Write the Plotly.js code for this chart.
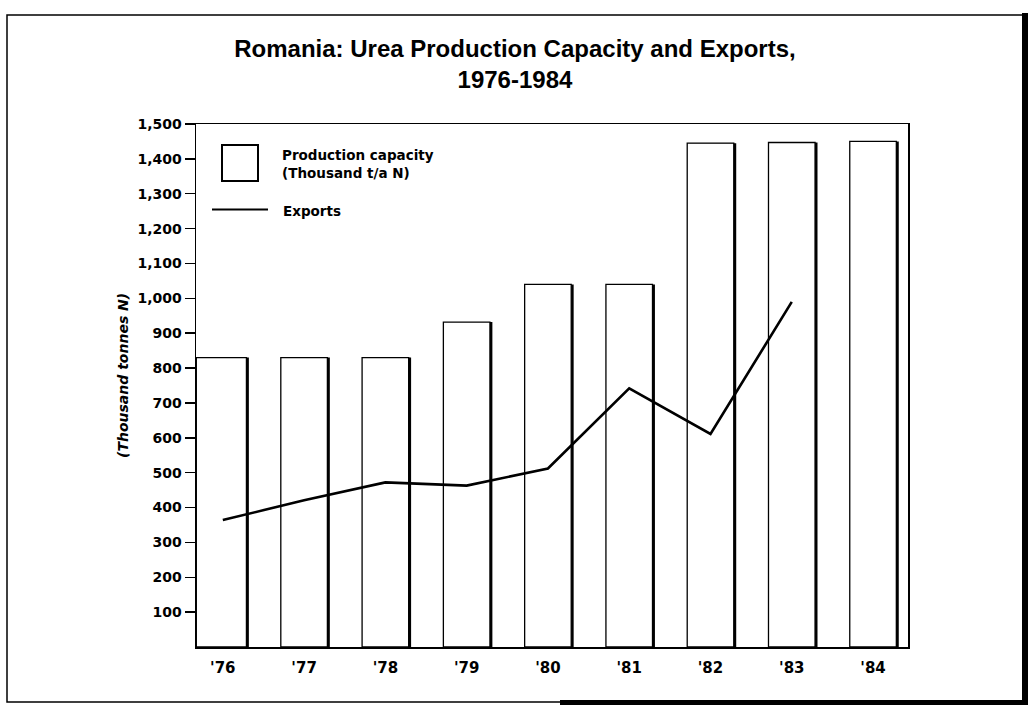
<!DOCTYPE html>
<html>
<head>
<meta charset="utf-8">
<script src="https://cdn.plot.ly/plotly-3.0.1.min.js"></script>
<style>
  html, body { margin: 0; padding: 0; background: #fff; }
  #chart { width: 1033px; height: 708px; }
</style>
</head>
<body>
<div id="chart"></div>
<script>
// ---- data ----
const years = ["'76", "'77", "'78", "'79", "'80", "'81", "'82", "'83", "'84"];
const capacity = [830, 830, 830, 932, 1040, 1040, 1445, 1447, 1450];
const exportYears = ["'76", "'77", "'78", "'79", "'80", "'81", "'82", "'83"];
const exportsVals = [364, 421, 472, 463, 512, 742, 611, 990];
const yTickVals = [100, 200, 300, 400, 500, 600, 700, 800, 900, 1000, 1100, 1200, 1300, 1400, 1500];

// ---- layout constants ----
const xRange = [-0.33, 8.43];
const barW = 0.573;
const widths = years.map((_, i) => i === 0 ? (barW / 2 - xRange[0]) : barW);
const offsets = years.map((_, i) => i === 0 ? xRange[0] + 0.004 : -barW / 2);
const shadowOffsets = offsets.map(o => o + 0.03);

const tickFont = { family: 'DejaVu Sans', size: 14, color: '#000', weight: 'bold' };

const traces = [
  { // shadow (thick right edge of bars)
    type: 'bar', x: years, y: capacity,
    width: widths, offset: shadowOffsets,
    marker: { color: '#000', line: { width: 0 } },
    hoverinfo: 'skip', showlegend: false
  },
  {
    type: 'bar', x: years, y: capacity, name: 'Production capacity (Thousand t/a N)',
    width: widths, offset: offsets,
    marker: { color: '#fff', line: { color: '#000', width: 1.3 } },
    showlegend: false
  },
  {
    type: 'scatter', mode: 'lines', x: exportYears, y: exportsVals, name: 'Exports',
    line: { color: '#000', width: 2.6 },
    showlegend: false
  }
];

const px = x => (x - 196) / 712;
const py = y => (647 - y) / 523;

const layout = {
  width: 1033, height: 708,
  margin: { l: 196, r: 125, t: 124, b: 61 },
  paper_bgcolor: '#fff', plot_bgcolor: '#fff',
  barmode: 'overlay',
  showlegend: false,
  title: {
    text: 'Romania: Urea Production Capacity and Exports,<br>1976-1984',
    font: { family: 'Liberation Sans', size: 24, color: '#000', weight: 'bold' },
    x: 0.4985, xref: 'container', xanchor: 'center',
    y: 1 - 57 / 708, yref: 'container', yanchor: 'top'
  },
  xaxis: {
    type: 'category', range: xRange,
    showline: true, linecolor: '#000', linewidth: 1.5, mirror: true,
    ticks: '', showgrid: false, zeroline: false, ticklabelstandoff: 6,
    tickfont: { family: 'DejaVu Sans', size: 15, color: '#000', weight: 'bold' }, fixedrange: true
  },
  yaxis: {
    range: [0, 1500],
    showline: true, linecolor: '#000', linewidth: 1.5, mirror: true,
    ticks: 'outside', ticklen: 10, tickwidth: 1.5, tickcolor: '#000',
    tickvals: yTickVals, tickformat: ',d',
    showgrid: false, zeroline: false,
    tickfont: tickFont,
    fixedrange: true
  },
  shapes: [
    // outer frame
    { type: 'rect', xref: 'paper', yref: 'paper', x0: px(7), x1: px(1025), y0: py(702), y1: py(15),
      line: { color: '#000', width: 1.5 } },
    { type: 'rect', xref: 'paper', yref: 'paper', x0: px(1022), x1: px(1028), y0: py(705), y1: py(13),
      fillcolor: '#000', line: { width: 0 } },
    { type: 'rect', xref: 'paper', yref: 'paper', x0: px(560), x1: px(1028), y0: py(705), y1: py(700),
      fillcolor: '#000', line: { width: 0 } },
    // legend symbols
    { type: 'rect', xref: 'paper', yref: 'paper', x0: px(222), x1: px(258), y0: py(181), y1: py(145),
      fillcolor: '#fff', line: { color: '#000', width: 2 } },
    { type: 'line', xref: 'paper', yref: 'paper', x0: px(212), x1: px(268), y0: py(209.5), y1: py(209.5),
      line: { color: '#000', width: 2 } }
  ],
  annotations: [
    { xref: 'paper', yref: 'paper', x: px(123), y: py(376), xanchor: 'center', yanchor: 'middle',
      textangle: -90, showarrow: false, text: '(Thousand tonnes N)',
      font: { family: 'DejaVu Sans', size: 14, color: '#000', weight: 'bold', style: 'italic' } },
    { xref: 'paper', yref: 'paper', x: px(280), y: py(163.5), xanchor: 'left', yanchor: 'middle',
      align: 'left', showarrow: false,
      text: 'Production capacity<br>(Thousand t/a N)',
      font: { family: 'DejaVu Sans', size: 13.5, color: '#000', weight: 'bold' } },
    { xref: 'paper', yref: 'paper', x: px(281), y: py(211), xanchor: 'left', yanchor: 'middle',
      align: 'left', showarrow: false, text: 'Exports',
      font: { family: 'DejaVu Sans', size: 13.5, color: '#000', weight: 'bold' } }
  ]
};

Plotly.newPlot('chart', traces, layout, { displayModeBar: false, staticPlot: true });
</script>
</body>
</html>
